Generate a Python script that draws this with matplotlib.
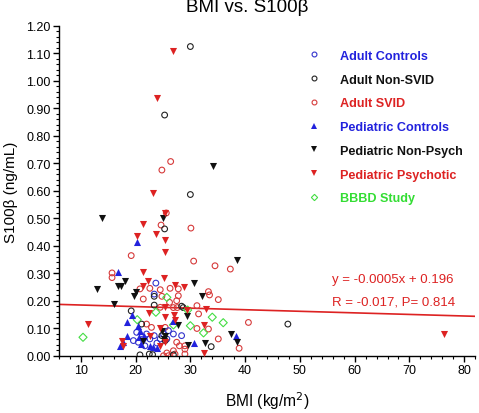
import matplotlib
matplotlib.use("Agg")
import matplotlib.pyplot as plt
from matplotlib.lines import Line2D
from matplotlib.ticker import MultipleLocator
import numpy as np

plt.rcParams['font.family'] = ['Liberation Sans', 'DejaVu Sans']

# ---------------- data ----------------
adult_controls_x = [23.7, 23.4, 19.6, 20.5, 21.4, 22.0, 22.6, 23.4, 23.9, 24.5, 25.1, 26.0, 25.7, 26.9, 28.4, 20.2, 21.7]
adult_controls_y = [0.265, 0.225, 0.056, 0.050, 0.062, 0.080, 0.062, 0.074, 0.047, 0.062, 0.080, 0.092, 0.062, 0.080, 0.074, 0.086, 0.037]

adult_nonsvid_x = [30.0, 25.3, 30.0, 25.3, 23.4, 23.4, 28.4, 28.7, 19.2, 21.1, 33.8, 47.8, 20.8, 22.5, 23.1, 26.9, 24.8, 25.4]
adult_nonsvid_y = [1.125, 0.876, 0.587, 0.462, 0.217, 0.185, 0.181, 0.176, 0.164, 0.116, 0.034, 0.116, 0.004, 0.007, 0.005, 0.004, 0.074, 0.056]

adult_svid_x = [26.4, 24.8, 25.6, 24.65, 30.1, 19.2, 30.6, 34.5, 37.3, 15.7, 15.7, 26.3, 21.4, 24.8, 27.8, 26.2,
                33.3, 33.5, 35.1, 26.9, 27.6, 31.5, 40.6, 25.4, 31.2, 35.1, 38.9, 29.0, 29.0, 29.0, 27.5, 28.0,
                26.9, 27.2, 25.7, 25.1, 26.0, 20.8, 22.6, 24.5, 27.8, 27.5, 24.5, 22.0, 22.9, 31.2, 33.3]
adult_svid_y = [0.707, 0.676, 0.520, 0.476, 0.465, 0.365, 0.345, 0.328, 0.316, 0.302, 0.285, 0.246, 0.207, 0.217, 0.219, 0.195,
                0.234, 0.222, 0.205, 0.176, 0.176, 0.153, 0.122, 0.104, 0.100, 0.062, 0.028, 0.025, 0.007, 0.037, 0.050, 0.037,
                0.019, 0.007, 0.011, 0.001, 0.001, 0.244, 0.246, 0.241, 0.244, 0.201, 0.177, 0.116, 0.104, 0.183, 0.098]

ped_controls_x = [20.3, 16.7, 19.3, 18.4, 20.5, 20.8, 30.6, 38.4, 17.1, 17.7, 18.5, 20.7, 21.5, 22.6, 23.2, 23.9, 20.9, 26.9]
ped_controls_y = [0.416, 0.304, 0.149, 0.122, 0.110, 0.092, 0.047, 0.074, 0.037, 0.050, 0.074, 0.068, 0.072, 0.037, 0.032, 0.030, 0.044, 0.128]

ped_nonpsych_x = [34.2, 13.8, 25.0, 38.5, 18.1, 12.9, 16.8, 17.3, 30.75, 20.1, 19.8, 32.2, 16.0, 29.3, 27.8, 37.5, 38.6, 32.7, 29.5, 21.4, 25.1, 25.4, 24.8]
ped_nonpsych_y = [0.692, 0.503, 0.502, 0.350, 0.274, 0.244, 0.253, 0.253, 0.265, 0.234, 0.219, 0.217, 0.188, 0.147, 0.113, 0.080, 0.052, 0.047, 0.040, 0.056, 0.062, 0.074, 0.092]

ped_psych_x = [26.9, 23.9, 23.2, 25.3, 21.3, 23.8, 20.3, 25.3, 25.3, 21.3, 22.3, 21.4, 25.1, 27.2, 28.9, 25.4, 22.5, 25.3,
               27.0, 29.3, 32.9, 11.3, 27.2, 24.5, 32.5, 32.5, 76.3, 17.5, 17.7, 22.6, 24.5, 25.4]
ped_psych_y = [1.108, 0.938, 0.592, 0.519, 0.479, 0.444, 0.438, 0.423, 0.377, 0.304, 0.274, 0.256, 0.284, 0.258, 0.250, 0.177, 0.155, 0.143,
               0.149, 0.168, 0.171, 0.116, 0.131, 0.100, 0.113, 0.010, 0.080, 0.056, 0.037, 0.074, 0.037, 0.050]

bbbd_x = [25.7, 23.7, 29.5, 34.0, 36.0, 10.4, 20.3, 26.9, 30.0, 32.4]
bbbd_y = [0.213, 0.159, 0.167, 0.141, 0.121, 0.068, 0.132, 0.113, 0.110, 0.084]

fit_slope = -0.00057
fit_intercept = 0.191
fit_text = ["y = -0.0005x + 0.196", "R = -0.017, P= 0.814"]

labels = ["Adult Controls", "Adult Non-SVID", "Adult SVID", "Pediatric Controls",
          "Pediatric Non-Psych", "Pediatric Psychotic", "BBBD Study"]

BLUE = "#2222dd"
BLACK = "#111111"
RED = "#dd2222"
GREEN = "#33dd33"

# ---------------- figure ----------------
fig = plt.figure(figsize=(4.79, 4.14), dpi=100)
ax = fig.add_axes([0.123, 0.1377, 0.869, 0.7973])

ms_c = 17
ms_t = 26
ax.scatter(adult_svid_x, adult_svid_y, s=ms_c, marker='o', facecolors='none', edgecolors="#d63a3a", linewidths=0.8, zorder=3)
ax.scatter(adult_controls_x, adult_controls_y, s=ms_c, marker='o', facecolors='none', edgecolors="#3333cc", linewidths=0.8, zorder=3)
ax.scatter(adult_nonsvid_x, adult_nonsvid_y, s=ms_c, marker='o', facecolors='none', edgecolors="#222222", linewidths=0.8, zorder=3)
ax.scatter(bbbd_x, bbbd_y, s=ms_c, marker='D', facecolors='none', edgecolors="#44dd44", linewidths=0.8, zorder=3)
ax.scatter(ped_controls_x, ped_controls_y, s=ms_t, marker='^', color=BLUE, linewidths=0, zorder=4)
ax.scatter(ped_nonpsych_x, ped_nonpsych_y, s=ms_t, marker='v', color=BLACK, linewidths=0, zorder=4)
ax.scatter(ped_psych_x, ped_psych_y, s=ms_t, marker='v', color=RED, linewidths=0, zorder=4)

xl = np.array([6, 82])
ax.plot(xl, fit_slope * xl + fit_intercept, color=RED, lw=1.2, zorder=2)

ax.text(0.803, 0.233, fit_text[0], transform=ax.transAxes, color=RED, fontsize=9.5, ha='center', va='center')
ax.text(0.803, 0.164, fit_text[1], transform=ax.transAxes, color=RED, fontsize=9.5, ha='center', va='center')

ax.set_xlim(6, 82)
ax.set_ylim(0, 1.2)
ax.xaxis.set_minor_locator(MultipleLocator(2))
ax.yaxis.set_minor_locator(MultipleLocator(0.02))
ax.set_yticks(np.arange(0, 1.21, 0.1))
ax.set_yticklabels([f"{v:.2f}" for v in np.arange(0, 1.21, 0.1)])
ax.set_xticks(np.arange(10, 81, 10))
for s in ['top', 'right']:
    ax.spines[s].set_visible(False)
ax.tick_params(which='major', direction='out', length=4, width=1, labelsize=9, pad=2)
ax.tick_params(which='minor', direction='out', length=2.5, width=0.8)
ax.spines['left'].set_linewidth(1)
ax.spines['bottom'].set_linewidth(1)

ax.set_xlabel("BMI (kg/m$^2$)", fontsize=11.2, labelpad=9)
ax.set_ylabel("S100β (ng/mL)", fontsize=11, labelpad=6)
fig.text(0.516, 0.971, "BMI vs. S100β", fontsize=13.5, ha='center', va='baseline')

handles = [
    Line2D([], [], ls='none', marker='o', ms=3.5, mfc='none', mec="#3333cc", mew=0.8),
    Line2D([], [], ls='none', marker='o', ms=3.5, mfc='none', mec="#222222", mew=0.8),
    Line2D([], [], ls='none', marker='o', ms=3.5, mfc='none', mec="#d63a3a", mew=0.8),
    Line2D([], [], ls='none', marker='^', ms=4.5, color=BLUE, mew=0),
    Line2D([], [], ls='none', marker='v', ms=4.5, color=BLACK, mew=0),
    Line2D([], [], ls='none', marker='v', ms=4.5, color=RED, mew=0),
    Line2D([], [], ls='none', marker='D', ms=3.2, mfc='none', mec="#44dd44", mew=0.8),
]
leg = ax.legend(handles, labels, loc='upper left', bbox_to_anchor=(0.571, 0.962), frameon=False,
                handlelength=1.0, handletextpad=1.55, labelspacing=0.93,
                prop={'weight': 'bold', 'size': 9.1})
for t, c in zip(leg.get_texts(), [BLUE, BLACK, RED, BLUE, BLACK, RED, GREEN]):
    t.set_color(c)

fig.savefig("out.png", dpi=100)
